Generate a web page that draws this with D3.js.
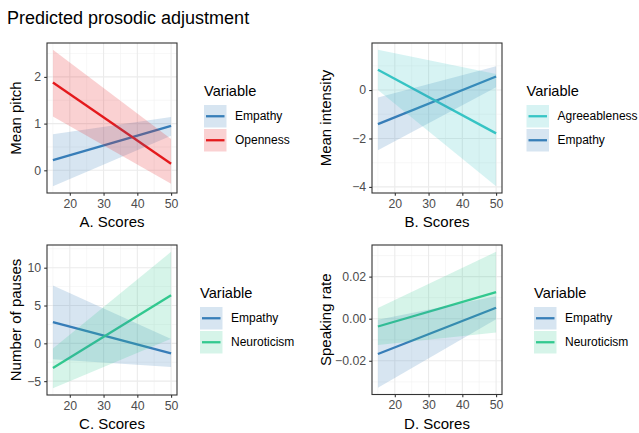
<!DOCTYPE html>
<html>
<head>
<meta charset="utf-8">
<script src="https://cdn.jsdelivr.net/npm/d3@7"></script>
<style>
  body { margin: 0; background: #fff; }
  svg { display: block; font-family: "Liberation Sans", Arial, sans-serif; }
</style>
</head>
<body>
<script>
// Scores at which the effects were predicted
const scores = [15, 50];
const xTicks = [20, 30, 40, 50];

// A. Mean pitch
const pitchEmpathyFit = [0.22, 0.95];
const pitchEmpathyLow = [-0.34, 0.74];
const pitchEmpathyHigh = [0.77, 1.14];
const pitchOpennessFit = [1.88, 0.14];
const pitchOpennessLow = [1.15, -0.29];
const pitchOpennessHigh = [2.58, 0.67];
const pitchTicks = [0, 1, 2];

// B. Mean intensity
const intensityAgreeFit = [0.84, -1.79];
const intensityAgreeLow = [0.0, -3.97];
const intensityAgreeHigh = [1.66, 0.66];
const intensityEmpathyFit = [-1.41, 0.56];
const intensityEmpathyLow = [-2.49, 0.11];
const intensityEmpathyHigh = [-0.31, 0.98];
const intensityTicks = [-4, -2, 0];

// C. Number of pauses
const pausesEmpathyFit = [2.8, -1.34];
const pausesEmpathyLow = [-2.1, -3.12];
const pausesEmpathyHigh = [7.65, 0.57];
const pausesNeuroFit = [-3.25, 6.36];
const pausesNeuroLow = [-5.93, 0.6];
const pausesNeuroHigh = [-0.67, 12.1];
const pausesTicks = [-5, 0, 5, 10];

// D. Speaking rate
const rateEmpathyFit = [-0.0168, 0.0052];
const rateEmpathyLow = [-0.0328, -0.0003];
const rateEmpathyHigh = [-0.0005, 0.0107];
const rateNeuroFit = [-0.0037, 0.0126];
const rateNeuroLow = [-0.0125, -0.0066];
const rateNeuroHigh = [0.0051, 0.0318];
const rateTicks = [-0.02, 0, 0.02];

const colors = {
  Empathy: "#377EB8",
  Openness: "#E41A1C",
  Agreeableness: "#36C5C5",
  Neuroticism: "#32C98F"
};

const width = 639, height = 433;
const svg = d3.select("body").append("svg")
  .attr("width", width).attr("height", height);

svg.append("text")
  .attr("x", 7).attr("y", 24)
  .attr("font-size", "18px")
  .attr("fill", "#000")
  .text("Predicted prosodic adjustment");

function series(name, fit, low, high) {
  return { name, rows: scores.map((s, i) => ({ x: s, fit: fit[i], low: low[i], high: high[i] })) };
}

// ggplot-like 5% expansion
function expand(lo, hi) {
  const pad = (hi - lo) * 0.05;
  return [lo - pad, hi + pad];
}

function drawPanel(p) {
  const g = svg.append("g");
  const x = d3.scaleLinear().domain(expand(15, 50))
    .range([p.left, p.left + p.w]);
  const allY = p.groups.flatMap((d) => d.rows.flatMap((r) => [r.low, r.high]));
  const y = d3.scaleLinear().domain(expand(d3.min(allY), d3.max(allY)))
    .range([p.top + p.h, p.top]);

  // minor grid
  const xMinor = xTicks.map((t) => t - 5);
  const step = p.yTicks[1] - p.yTicks[0];
  const yMinor = [p.yTicks[0] - step / 2, ...p.yTicks.map((t) => t + step / 2)]
    .filter((v) => v >= y.domain()[0] && v <= y.domain()[1]);
  g.selectAll(".xmin").data(xMinor).join("line")
    .attr("x1", (d) => x(d)).attr("x2", (d) => x(d))
    .attr("y1", p.top).attr("y2", p.top + p.h)
    .attr("stroke", "#f2f2f2").attr("stroke-width", 0.6);
  g.selectAll(".ymin").data(yMinor).join("line")
    .attr("y1", (d) => y(d)).attr("y2", (d) => y(d))
    .attr("x1", p.left).attr("x2", p.left + p.w)
    .attr("stroke", "#f2f2f2").attr("stroke-width", 0.6);
  // major grid
  g.selectAll(".xmaj").data(xTicks).join("line")
    .attr("x1", (d) => x(d)).attr("x2", (d) => x(d))
    .attr("y1", p.top).attr("y2", p.top + p.h)
    .attr("stroke", "#ebebeb").attr("stroke-width", 1.1);
  g.selectAll(".ymaj").data(p.yTicks).join("line")
    .attr("y1", (d) => y(d)).attr("y2", (d) => y(d))
    .attr("x1", p.left).attr("x2", p.left + p.w)
    .attr("stroke", "#ebebeb").attr("stroke-width", 1.1);

  const line = d3.line().x((d) => x(d.x)).y((d) => y(d.fit));
  const area = d3.area().x((d) => x(d.x)).y0((d) => y(d.low)).y1((d) => y(d.high));

  // lines, then ribbons on top
  g.selectAll(".fit").data(p.groups).join("path")
    .attr("d", (d) => line(d.rows))
    .attr("fill", "none")
    .attr("stroke", (d) => colors[d.name])
    .attr("stroke-width", 2.3);
  g.selectAll(".band").data(p.groups).join("path")
    .attr("d", (d) => area(d.rows))
    .attr("fill", (d) => colors[d.name])
    .attr("fill-opacity", 0.2);

  // panel border
  g.append("rect")
    .attr("x", p.left).attr("y", p.top)
    .attr("width", p.w).attr("height", p.h)
    .attr("fill", "none").attr("stroke", "#333").attr("stroke-width", 1.1);

  // x axis
  const xAxis = g.append("g")
    .attr("transform", `translate(0, ${p.top + p.h})`)
    .call(d3.axisBottom(x).tickValues(xTicks).tickSize(2.8).tickPadding(3));
  xAxis.select(".domain").remove();
  xAxis.selectAll("line").attr("stroke", "#333").attr("stroke-width", 1.1);
  xAxis.selectAll("text").attr("font-size", "12.3px").attr("fill", "#4d4d4d")
    .attr("font-family", "Liberation Sans, Arial, sans-serif");

  // y axis
  const yAxis = g.append("g")
    .attr("transform", `translate(${p.left}, 0)`)
    .call(d3.axisLeft(y).tickValues(p.yTicks).tickSize(2.8).tickPadding(3)
      .tickFormat(p.yFormat));
  yAxis.select(".domain").remove();
  yAxis.selectAll("line").attr("stroke", "#333").attr("stroke-width", 1.1);
  yAxis.selectAll("text").attr("font-size", "12.3px").attr("fill", "#4d4d4d")
    .attr("font-family", "Liberation Sans, Arial, sans-serif");

  // axis titles
  g.append("text")
    .attr("x", p.left + p.w / 2).attr("y", p.top + p.h + 34)
    .attr("text-anchor", "middle")
    .attr("font-size", "15px")
    .text(p.xTitle);
  g.append("text")
    .attr("transform", `translate(${p.yTitleX}, ${p.top + p.h / 2}) rotate(-90)`)
    .attr("text-anchor", "middle")
    .attr("dy", "0.35em")
    .attr("font-size", "15px")
    .text(p.yTitle);

  // legend
  const lg = g.append("g").attr("transform", `translate(${p.legendX}, ${p.top + 48})`);
  lg.append("text")
    .attr("x", 0).attr("y", 0)
    .attr("dy", "0.35em")
    .attr("font-size", "14.6px")
    .text("Variable");
  const keys = lg.selectAll(".key").data(p.legendOrder).join("g")
    .attr("transform", (d, i) => `translate(0, ${14 + i * 24})`);
  keys.append("rect")
    .attr("width", 22.5).attr("height", 22.5)
    .attr("fill", (d) => colors[d]).attr("fill-opacity", 0.2);
  keys.append("line")
    .attr("x1", 2).attr("x2", 20.5)
    .attr("y1", 11.25).attr("y2", 11.25)
    .attr("stroke", (d) => colors[d]).attr("stroke-width", 2.3);
  keys.append("text")
    .attr("x", 31).attr("y", 11.25)
    .attr("dy", "0.35em")
    .attr("font-size", "12px")
    .text((d) => d);
}

drawPanel({
  left: 47, top: 43, w: 130, h: 150,
  groups: [
    series("Empathy", pitchEmpathyFit, pitchEmpathyLow, pitchEmpathyHigh),
    series("Openness", pitchOpennessFit, pitchOpennessLow, pitchOpennessHigh)
  ],
  legendOrder: ["Empathy", "Openness"],
  yTicks: pitchTicks, yFormat: d3.format("d"),
  xTitle: "A. Scores", yTitle: "Mean pitch", yTitleX: 16, legendX: 204
});

drawPanel({
  left: 372, top: 43, w: 130, h: 150,
  groups: [
    series("Empathy", intensityEmpathyFit, intensityEmpathyLow, intensityEmpathyHigh),
    series("Agreeableness", intensityAgreeFit, intensityAgreeLow, intensityAgreeHigh)
  ],
  legendOrder: ["Agreeableness", "Empathy"],
  yTicks: intensityTicks, yFormat: d3.format("d"),
  xTitle: "B. Scores", yTitle: "Mean intensity", yTitleX: 326, legendX: 526.5
});

drawPanel({
  left: 47, top: 245, w: 130, h: 150,
  groups: [
    series("Empathy", pausesEmpathyFit, pausesEmpathyLow, pausesEmpathyHigh),
    series("Neuroticism", pausesNeuroFit, pausesNeuroLow, pausesNeuroHigh)
  ],
  legendOrder: ["Empathy", "Neuroticism"],
  yTicks: pausesTicks, yFormat: d3.format("d"),
  xTitle: "C. Scores", yTitle: "Number of pauses", yTitleX: 16, legendX: 200
});

drawPanel({
  left: 372, top: 245, w: 130, h: 149.5,
  groups: [
    series("Empathy", rateEmpathyFit, rateEmpathyLow, rateEmpathyHigh),
    series("Neuroticism", rateNeuroFit, rateNeuroLow, rateNeuroHigh)
  ],
  legendOrder: ["Empathy", "Neuroticism"],
  yTicks: rateTicks, yFormat: d3.format(".2f"),
  xTitle: "D. Scores", yTitle: "Speaking rate", yTitleX: 326, legendX: 534
});
</script>
</body>
</html>
